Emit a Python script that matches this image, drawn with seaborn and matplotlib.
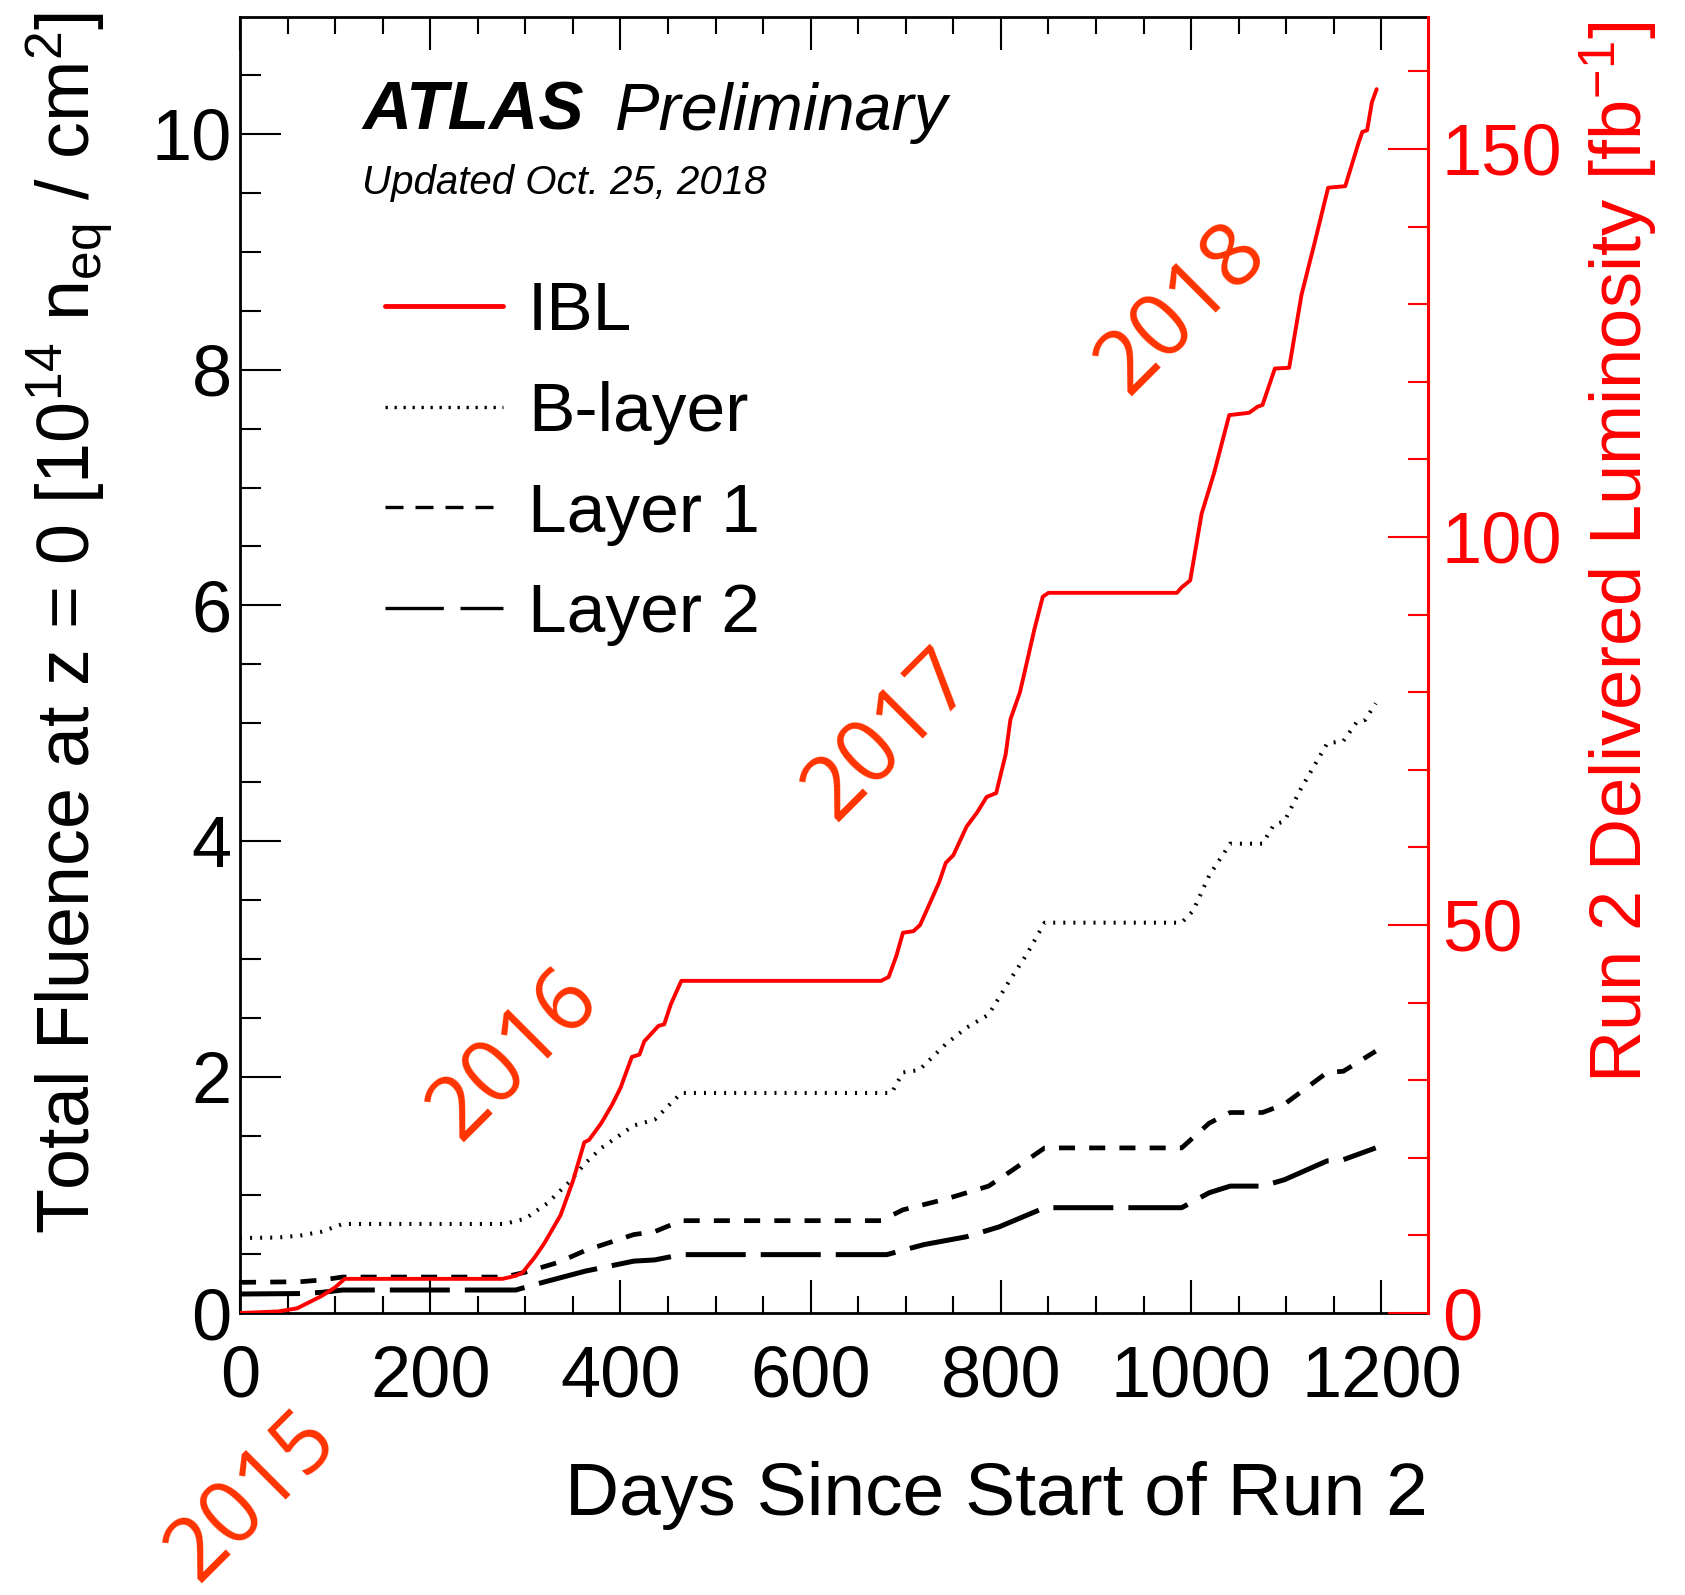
import matplotlib
matplotlib.use("Agg")
import matplotlib.pyplot as plt
import seaborn as sns
import pandas as pd
from matplotlib.ticker import MultipleLocator

# ---------------- data ----------------
ibl_days = [0, 40, 60, 86, 100, 110, 276, 290, 297, 310, 320, 337, 350, 362, 367,
            380, 391, 400, 412, 420, 425, 440, 446, 453, 464, 674, 682, 690, 697,
            708, 715, 722, 735, 742, 750, 764, 775, 785, 795, 805, 810, 820, 827,
            835, 844, 850, 985, 990, 999, 1011, 1024, 1040, 1061, 1070, 1075, 1088,
            1103, 1116, 1130, 1144, 1162, 1176, 1180, 1185, 1190, 1195]
ibl_lumi = [0, 0.2, 0.6, 2.2, 3.3, 4.4, 4.4, 4.8, 5.2, 7.2, 9.0, 12.6, 17.0, 22.0, 22.3,
            24.5, 26.8, 29.0, 33.0, 33.3, 35.0, 37.0, 37.2, 39.8, 42.8, 42.8, 43.3, 46.0, 49.0,
            49.2, 50.0, 51.9, 55.5, 58.0, 59.0, 62.7, 64.5, 66.5, 67.0, 72.0, 76.5, 80.0, 83.7,
            88.0, 92.3, 92.8, 92.8, 93.5, 94.4, 103.0, 108.2, 115.7, 116.0, 116.8, 117.0, 121.7,
            121.8, 131.2, 138.0, 145.0, 145.2, 150.8, 152.2, 152.4, 156.0, 157.7]

blayer_days = [0, 40, 63, 86, 108, 278, 300, 323, 346, 363, 380, 414, 436, 464, 685,
               697, 714, 742, 764, 787, 810, 827, 846, 990, 1002, 1019, 1041, 1075,
               1087, 1098, 1115, 1143, 1160, 1174, 1183, 1194]
blayer_flu = [0.636, 0.64, 0.656, 0.69, 0.755, 0.755, 0.80, 0.93, 1.11, 1.27, 1.40, 1.59,
              1.64, 1.866, 1.866, 2.04, 2.06, 2.28, 2.42, 2.53, 2.83, 3.04, 3.31, 3.31,
              3.41, 3.71, 3.98, 3.98, 4.14, 4.17, 4.44, 4.83, 4.85, 5.01, 5.03, 5.17]

layer1_days = [0, 63, 86, 108, 278, 300, 335, 363, 414, 436, 464, 674, 697, 742, 787,
               810, 846, 990, 1019, 1041, 1075, 1098, 1143, 1160, 1194]
layer1_flu = [0.26, 0.265, 0.28, 0.305, 0.305, 0.346, 0.43, 0.53, 0.665, 0.69, 0.783,
              0.783, 0.875, 0.966, 1.076, 1.20, 1.40, 1.40, 1.61, 1.70, 1.70, 1.77,
              2.04, 2.05, 2.22]

layer2_days = [0, 63, 86, 108, 290, 312, 363, 414, 436, 464, 680, 719, 764, 798, 846,
               990, 1019, 1041, 1075, 1098, 1143, 1160, 1194]
layer2_flu = [0.161, 0.165, 0.175, 0.195, 0.195, 0.246, 0.355, 0.44, 0.45, 0.495, 0.495,
              0.58, 0.647, 0.73, 0.893, 0.893, 1.02, 1.076, 1.076, 1.13, 1.29, 1.30, 1.40]

series_labels = ["IBL", "B-layer", "Layer 1", "Layer 2"]
year_labels = ["2015", "2016", "2017", "2018"]
x_ticks = [0, 200, 400, 600, 800, 1000, 1200]
left_ticks = [0, 2, 4, 6, 8, 10]
right_ticks = [0, 50, 100, 150]

# ---------------- style ----------------
sns.set_theme(style="ticks")
plt.rcParams["font.family"] = ["Liberation Sans", "DejaVu Sans"]
plt.rcParams["mathtext.fontset"] = "custom"
plt.rcParams["mathtext.rm"] = "Liberation Sans"
plt.rcParams["mathtext.it"] = "Liberation Sans:italic"
plt.rcParams["mathtext.bf"] = "Liberation Sans:bold"
plt.rcParams["text.color"] = "black"
plt.rcParams["axes.labelcolor"] = "black"
plt.rcParams["xtick.color"] = "black"
plt.rcParams["ytick.color"] = "black"
plt.rcParams["axes.edgecolor"] = "black"

W, H = 1685, 1595
fig = plt.figure(figsize=(W / 100, H / 100), dpi=100)
fig.patch.set_facecolor("white")
ax = fig.add_axes([240 / W, 1 - 1313 / H, (1428 - 240) / W, (1313 - 17) / H])
ax.set_facecolor("white")
ax2 = ax.twinx()

RED = "#ff0000"
YEAR = "#ff3300"

df_b = pd.DataFrame({"day": blayer_days, "fluence": blayer_flu})
df_1 = pd.DataFrame({"day": layer1_days, "fluence": layer1_flu})
df_2 = pd.DataFrame({"day": layer2_days, "fluence": layer2_flu})
df_i = pd.DataFrame({"day": ibl_days, "lumi": ibl_lumi})

sns.lineplot(data=df_b, x="day", y="fluence", ax=ax, color="black", lw=2.9,
             linestyle=(0, (0.5, 2.0)), estimator=None, sort=False)
sns.lineplot(data=df_1, x="day", y="fluence", ax=ax, color="black", lw=3.4,
             linestyle=(0, (3.4, 3.0)), estimator=None, sort=False)
sns.lineplot(data=df_2, x="day", y="fluence", ax=ax, color="black", lw=3.6,
             linestyle=(0, (12.0, 3.0)), estimator=None, sort=False)
sns.lineplot(data=df_i, x="day", y="lumi", ax=ax2, color=RED, lw=2.8,
             estimator=None, sort=False)

for a in (ax, ax2):
    a.set_xlabel("")
    a.set_ylabel("")

ax.set_xlim(0, 1249)
ax.set_ylim(0, 10.99)
ax2.set_ylim(0, 167.0)

ax.set_xticks(x_ticks)
ax.set_xticklabels([str(t) for t in x_ticks])
ax.set_yticks(left_ticks)
ax.set_yticklabels([str(t) for t in left_ticks])
ax2.set_yticks(right_ticks)
ax2.set_yticklabels([str(t) for t in right_ticks])
ax.xaxis.set_minor_locator(MultipleLocator(50))
ax.yaxis.set_minor_locator(MultipleLocator(0.5))
ax2.yaxis.set_minor_locator(MultipleLocator(10))

ax.tick_params(axis="x", which="major", direction="in", top=True, bottom=True,
               length=24, width=1.5, labelsize=52, pad=23, colors="black")
ax.tick_params(axis="x", which="minor", direction="in", top=True, bottom=True,
               length=12, width=1.5, colors="black")
ax.tick_params(axis="y", which="major", direction="in", left=True, right=False,
               length=29.5, width=1.5, labelsize=52, pad=6, colors="black")
ax.tick_params(axis="y", which="minor", direction="in", left=True, right=False,
               length=15, width=1.5, colors="black")
ax2.tick_params(axis="y", which="major", direction="in", right=True, left=False,
                length=29, width=1.5, labelsize=52, pad=10, colors=RED)
ax2.tick_params(axis="y", which="minor", direction="in", right=True, left=False,
                length=14.5, width=1.5, colors=RED)

for s in ("left", "bottom", "top"):
    ax.spines[s].set_linewidth(2)
    ax.spines[s].set_color("black")
ax.spines["right"].set_visible(False)
for s in ("left", "bottom", "top"):
    ax2.spines[s].set_visible(False)
ax2.spines["right"].set_color(RED)
ax2.spines["right"].set_linewidth(2.2)

# ---------------- axis titles ----------------
fig.text(1428 / W, 1 - 1515 / H, "Days Since Start of Run 2", ha="right",
         va="baseline", fontsize=54, color="black")
fig.text(70 / W, 1 - 12 / H,
         r"Total Fluence at z = 0 [10$^{14}$ n$_{\rm eq}$ / cm$^{2}$]",
         rotation=90, ha="center", va="top", fontsize=53, color="black")
fig.text(1619 / W, 1 - 22 / H, r"Run 2 Delivered Luminosity [fb$^{-1}$]",
         rotation=90, ha="center", va="top", fontsize=52, color=RED)

# ---------------- ATLAS labels ----------------
fig.text(362 / W, 1 - 129.5 / H, "ATLAS", fontsize=49, fontweight="bold",
         fontstyle="italic", ha="left", va="baseline", color="black")
fig.text(615 / W, 1 - 129.5 / H, "Preliminary", fontsize=48,
         fontstyle="italic", ha="left", va="baseline", color="black")
fig.text(362 / W, 1 - 194 / H, "Updated Oct. 25, 2018", fontsize=29,
         fontstyle="italic", ha="left", va="baseline", color="black")

# ---------------- legend ----------------
handles = [ax2.lines[0], ax.lines[0], ax.lines[1], ax.lines[2]]
leg = ax.legend(handles, series_labels, loc="upper left",
                bbox_to_anchor=(385 / W, 1 - 280 / H), bbox_transform=fig.transFigure,
                frameon=False, fontsize=50, handlelength=1.70, handletextpad=0.36,
                labelspacing=0.53, borderpad=0, borderaxespad=0)
for t in leg.get_texts():
    t.set_color("black")
leg_lines = leg.get_lines()
leg_lines[0].set_linewidth(3.5)
leg_lines[1].set_linewidth(2.4)
leg_lines[1].set_linestyle((0, (0.7, 2.0)))
leg_lines[2].set_linewidth(2.4)
leg_lines[2].set_linestyle((0, (5.4, 3.6)))
leg_lines[3].set_linewidth(2.4)
leg_lines[3].set_linestyle((0, (17.5, 5.0)))

# ---------------- year labels ----------------
year_pos = [(252, 1496), (514, 1055), (889, 735), (1182, 309)]
for lab, (px, py) in zip(year_labels, year_pos):
    fig.text(px / W, 1 - py / H, lab, rotation=45, rotation_mode="anchor",
             ha="center", va="center", fontsize=63, color=YEAR,
             family=["Open Sans", "DejaVu Sans"])

fig.savefig("out.png", dpi=100, facecolor="white")
